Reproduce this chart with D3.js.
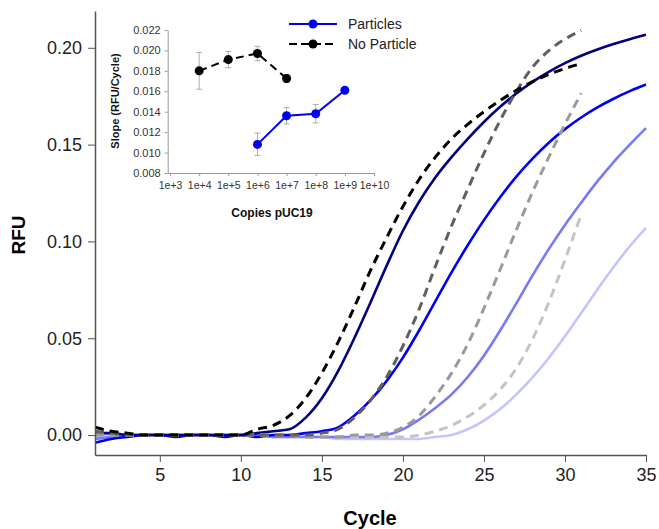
<!DOCTYPE html>
<html>
<head>
<meta charset="utf-8">
<script src="https://cdn.jsdelivr.net/npm/d3@7"></script>
<style>
  body { margin: 0; background: #fff; }
  svg text { font-family: Arial, "Liberation Sans", sans-serif; }
  .axis path, .axis line { stroke: #555; }
  .axis text { fill: #222; }
  .inset path.domain, .inset line { stroke: #999; }
  .inset text { fill: #333; }
</style>
</head>
<body>
<div id="chart"></div>
<script>

// ---- main plot data (RFU per cycle) ----
var cyclesSolid = d3.range(1, 36);   // 1..35
var cyclesDashed = d3.range(1, 32);  // 1..31

var navy = [0.001,0.001,0.000,0.000,0.000,0.000,0.000,0.000,0.000,0.000,0.001,0.002,0.003,0.009,0.019,0.033,0.050,0.0685,0.0875,0.1055,0.1205,0.1330,0.1435,0.1530,0.1617,0.1695,0.1764,0.1824,0.1876,0.1921,0.1959,0.1991,0.2019,0.2044,0.2067];
var blue = [-0.004,-0.002,-0.001,0.000,0.000,-0.001,0.000,0.000,-0.001,0.000,-0.001,0.000,0.000,0.001,0.002,0.004,0.010,0.018,0.028,0.040,0.054,0.069,0.084,0.098,0.1110,0.1228,0.1335,0.1428,0.1510,0.1580,0.1640,0.1692,0.1737,0.1776,0.1810];
var midBlue = [-0.002,-0.001,0.000,0.000,0.000,0.000,0.000,0.000,0.000,0.000,0.000,-0.001,-0.001,-0.001,-0.001,-0.001,-0.001,-0.001,0.000,0.003,0.008,0.014,0.021,0.030,0.041,0.054,0.068,0.0825,0.096,0.1085,0.1200,0.1310,0.1410,0.1500,0.1585];
var paleBlue = [-0.001,0.000,0.000,0.000,0.000,0.000,0.000,0.000,0.000,0.000,0.000,-0.001,-0.001,-0.001,-0.001,-0.002,-0.002,-0.002,-0.002,-0.002,-0.002,-0.001,0.000,0.003,0.0075,0.0135,0.021,0.0298,0.0398,0.051,0.063,0.0752,0.0868,0.0975,0.107];

var blackDash = [0.004,0.002,0.001,0.000,0.000,0.000,0.000,0.000,0.000,0.000,0.003,0.005,0.010,0.019,0.032,0.048,0.066,0.085,0.102,0.118,0.132,0.1435,0.153,0.1605,0.1670,0.1728,0.1780,0.1825,0.1862,0.1893,0.1918];
var darkGrayDash = [0.002,0.001,0.000,0.000,0.000,0.000,0.000,0.000,0.000,0.000,0.000,0.000,0.000,0.000,0.001,0.003,0.009,0.018,0.030,0.046,0.065,0.087,0.108,0.127,0.1455,0.1625,0.1775,0.1900,0.1985,0.2045,0.2090];
var grayDash = [0.000,0.000,0.000,0.000,0.000,0.000,0.000,0.000,0.000,0.000,0.000,0.000,0.000,-0.001,-0.001,-0.001,0.000,0.000,0.001,0.004,0.010,0.020,0.032,0.047,0.0655,0.0855,0.1060,0.1255,0.1435,0.1605,0.1765];
var lightGrayDash = [0.000,0.000,0.000,0.000,0.000,0.000,0.000,0.000,0.000,0.000,0.000,0.000,0.000,-0.001,-0.001,-0.001,-0.001,-0.001,-0.001,-0.001,0.000,0.002,0.005,0.0095,0.0155,0.0235,0.0345,0.0495,0.0685,0.0905,0.114];

var xTicks = [5, 10, 15, 20, 25, 30, 35];
var yTicks = [0, 0.05, 0.10, 0.15, 0.20];

// ---- inset data (slope vs copies) ----
var copiesParticles = [1e6, 1e7, 1e8, 1e9];
var slopeParticles = [0.0108, 0.0136, 0.0138, 0.0161];
var errParticles = [0.0011, 0.0008, 0.0009, 0.0002];

var copiesNoParticle = [1e4, 1e5, 1e6, 1e7];
var slopeNoParticle = [0.0180, 0.0191, 0.0197, 0.01725];
var errNoParticle = [0.0018, 0.0008, 0.0007, 0.0004];

var insetXTicks = [1e3, 1e4, 1e5, 1e6, 1e7, 1e8, 1e9, 1e10];
var insetYTicks = [0.008, 0.010, 0.012, 0.014, 0.016, 0.018, 0.020, 0.022];

var width = 659;
var height = 529;

var svg = d3.select("#chart")
  .append("svg")
    .attr("width", width)
    .attr("height", height);

var x = d3.scaleLinear().domain([1, 35]).range([95, 646]);
var y = d3.scaleLinear().domain([-0.0103, 0.219]).range([455, 11]);

var line = d3.line()
  .curve(d3.curveMonotoneX)
  .x(function(d) { return x(d[0]); })
  .y(function(d) { return y(d[1]); });

var solids = [
  {vals: paleBlue, color: "#c4c4ff"},
  {vals: midBlue, color: "#7878f8"},
  {vals: blue, color: "#0000f0"},
  {vals: navy, color: "#000080"}
];
var dashes = [
  {vals: lightGrayDash, color: "#c4c4c4"},
  {vals: grayDash, color: "#9a9a9a"},
  {vals: darkGrayDash, color: "#606060"},
  {vals: blackDash, color: "#000000"}
];

solids.forEach(function(s) {
  svg.append("path")
    .datum(cyclesSolid.map(function(c, i) { return [c, s.vals[i]]; }))
    .attr("fill", "none")
    .attr("stroke", s.color)
    .attr("stroke-width", 2.6)
    .attr("d", line);
});

dashes.forEach(function(s) {
  svg.append("path")
    .datum(cyclesDashed.map(function(c, i) { return [c, s.vals[i]]; }))
    .attr("fill", "none")
    .attr("stroke", s.color)
    .attr("stroke-width", 3)
    .attr("stroke-dasharray", "9,6")
    .attr("d", line);
});

// axes
svg.append("g")
  .attr("class", "axis")
  .attr("transform", "translate(0,455)")
  .call(d3.axisBottom(x).tickValues(xTicks).tickSize(7).tickSizeOuter(0).tickPadding(6))
  .call(function(g) {
    g.select(".domain").attr("stroke-width", 1.5);
    g.selectAll("text").style("font-size", "18px");
  });

svg.append("g")
  .attr("class", "axis")
  .attr("transform", "translate(95,0)")
  .call(d3.axisLeft(y).tickValues(yTicks).tickFormat(d3.format(".2f")).tickSize(7).tickSizeOuter(0).tickPadding(6))
  .call(function(g) {
    g.select(".domain").attr("stroke-width", 1.5);
    g.selectAll("text").style("font-size", "18px");
  });

svg.append("text")
  .attr("x", 370)
  .attr("y", 525)
  .attr("text-anchor", "middle")
  .style("font-size", "20px")
  .style("font-weight", "bold")
  .text("Cycle");

svg.append("text")
  .attr("transform", "translate(25,235) rotate(-90)")
  .attr("text-anchor", "middle")
  .style("font-size", "19px")
  .style("font-weight", "bold")
  .text("RFU");

// ---- inset ----
var ix = d3.scaleLog().domain([Math.pow(10, 2.92), 1e10]).range([167.7, 374]);
var iy = d3.scaleLinear().domain([0.008, 0.022]).range([173, 30]);

var inset = svg.append("g").attr("class", "inset");

inset.append("g")
  .attr("transform", "translate(0,173)")
  .call(d3.axisBottom(ix).tickValues(insetXTicks)
    .tickFormat(function(d) { return "1e+" + Math.round(Math.log10(d)); })
    .tickSize(3).tickSizeOuter(0).tickPadding(6))
  .call(function(g) { g.selectAll("text").style("font-size", "10.5px"); });

inset.append("g")
  .attr("transform", "translate(167.7,0)")
  .call(d3.axisLeft(iy).tickValues(insetYTicks).tickFormat(d3.format(".3f"))
    .tickSize(3).tickSizeOuter(0).tickPadding(4))
  .call(function(g) { g.selectAll("text").style("font-size", "11px"); });

inset.append("text")
  .attr("x", 272)
  .attr("y", 217)
  .attr("text-anchor", "middle")
  .style("font-size", "12px")
  .style("font-weight", "bold")
  .style("fill", "#111")
  .text("Copies pUC19");

inset.append("text")
  .attr("transform", "translate(119,101) rotate(-90)")
  .attr("text-anchor", "middle")
  .style("font-size", "11px")
  .style("font-weight", "bold")
  .style("fill", "#111")
  .text("Slope (RFU/Cycle)");

var iline = d3.line()
  .x(function(d) { return ix(d[0]); })
  .y(function(d) { return iy(d[1]); });

function drawSeries(copies, slopes, errs, color, dash) {
  var pts = copies.map(function(c, i) { return [c, slopes[i], errs[i]]; });
  var g = inset.append("g");
  g.selectAll("line.err")
    .data(pts)
    .enter().append("line")
      .attr("x1", function(d) { return ix(d[0]); })
      .attr("x2", function(d) { return ix(d[0]); })
      .attr("y1", function(d) { return iy(d[1] - d[2]); })
      .attr("y2", function(d) { return iy(d[1] + d[2]); })
      .attr("stroke", "#777")
      .attr("stroke-width", 0.8);
  [-1, 1].forEach(function(sgn) {
    g.selectAll(null)
      .data(pts)
      .enter().append("line")
        .attr("x1", function(d) { return ix(d[0]) - 3; })
        .attr("x2", function(d) { return ix(d[0]) + 3; })
        .attr("y1", function(d) { return iy(d[1] + sgn * d[2]); })
        .attr("y2", function(d) { return iy(d[1] + sgn * d[2]); })
        .attr("stroke", "#777")
        .attr("stroke-width", 0.8);
  });
  g.append("path")
    .datum(pts)
    .attr("fill", "none")
    .attr("stroke", color)
    .attr("stroke-width", 2)
    .attr("stroke-dasharray", dash)
    .attr("d", iline);
  g.selectAll("circle")
    .data(pts)
    .enter().append("circle")
      .attr("cx", function(d) { return ix(d[0]); })
      .attr("cy", function(d) { return iy(d[1]); })
      .attr("r", 4.5)
      .attr("fill", color);
}

drawSeries(copiesNoParticle, slopeNoParticle, errNoParticle, "#000", "8,5");
drawSeries(copiesParticles, slopeParticles, errParticles, "#0000ee", null);

// legend
var legend = svg.append("g");
var legendItems = [
  {label: "Particles", color: "#0000ee", dash: null, y: 24},
  {label: "No Particle", color: "#000", dash: "8,4", y: 44}
];
legendItems.forEach(function(d) {
  legend.append("line")
    .attr("x1", 289).attr("x2", 337)
    .attr("y1", d.y).attr("y2", d.y)
    .attr("stroke", d.color)
    .attr("stroke-width", 2)
    .attr("stroke-dasharray", d.dash);
  legend.append("circle")
    .attr("cx", 313).attr("cy", d.y)
    .attr("r", 4.5)
    .attr("fill", d.color);
  legend.append("text")
    .attr("x", 348).attr("y", d.y)
    .attr("dy", "0.35em")
    .style("font-size", "14px")
    .style("fill", "#222")
    .text(d.label);
});

</script>
</body>
</html>
